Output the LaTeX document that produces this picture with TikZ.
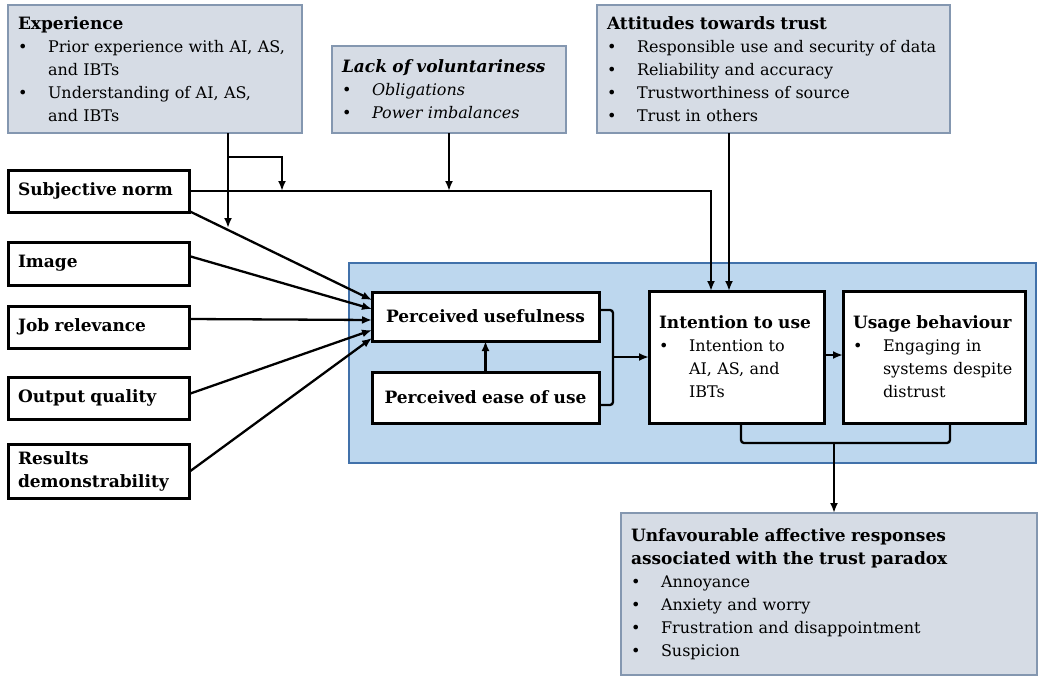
\documentclass[tikz,border=0pt]{standalone}
\usepackage{fontspec}
\setmainfont{DejaVu Serif}
\usetikzlibrary{arrows.meta}

\newcommand{\bul}{\makebox[30pt][l]{\textbullet}}
\newcommand{\ind}{\hspace*{30pt}}
\newcommand{\boxtitle}[1]{\mbox{\fontsize{17}{23}\selectfont\bfseries #1}}

\begin{document}
\begin{tikzpicture}[x=1pt,y=-1pt,
  font=\fontsize{16}{23}\selectfont,
  greybox/.style={draw=kBoxEdge,fill=kBoxFill,line width=2.5pt,anchor=north west,
    align=left,inner xsep=10pt,inner ysep=0pt,outer sep=0pt},
  blackbox/.style={draw=black,fill=white,line width=3pt,anchor=north west,
    align=left,inner xsep=10pt,inner ysep=0pt,outer sep=0pt},
  corebox/.style={draw=kCoreEdge,fill=kCoreFill,line width=2.5pt,anchor=north west,
    inner sep=0pt,outer sep=0pt},
  conn/.style={line width=2.3pt},
  arrow/.style={conn,-{Latex[length=10pt,width=8pt]}}]
  % colors
  \definecolor{kBoxFill}{RGB}{214,220,229}
  \definecolor{kBoxEdge}{RGB}{132,151,176}
  \definecolor{kCoreFill}{RGB}{189,215,238}
  \definecolor{kCoreEdge}{RGB}{65,113,170}
  \useasboundingbox (0,0) rectangle (1039,677);
  % top boxes
  \node[greybox,minimum width=294pt,minimum height=128pt,text width=274pt] (exp) at (8,5)
    {\boxtitle{Experience}\\
     \bul Prior experience with AI, AS,\\ \ind and IBTs\\
     \bul Understanding of AI, AS,\\ \ind and IBTs};
  \node[greybox,minimum width=234pt,minimum height=87pt,text width=214pt] (lov) at (332,46)
    {\boxtitle{\itshape Lack of voluntariness}\\
     \bul\textit{Obligations}\\
     \bul\textit{Power imbalances}};
  \node[greybox,minimum width=353pt,minimum height=128pt,text width=333pt] (att) at (597,5)
    {\boxtitle{Attitudes towards trust}\\
     \bul Responsible use and security of data\\
     \bul Reliability and accuracy\\
     \bul Trustworthiness of source\\
     \bul Trust in others};
  % left boxes
  \node[blackbox,minimum width=181pt,minimum height=42pt,text width=161pt] (sn) at (8,170) {\boxtitle{Subjective norm}};
  \node[blackbox,minimum width=181pt,minimum height=43pt,text width=161pt] (img) at (8,242) {\boxtitle{Image}};
  \node[blackbox,minimum width=181pt,minimum height=42pt,text width=161pt] (job) at (8,306) {\boxtitle{Job relevance}};
  \node[blackbox,minimum width=181pt,minimum height=42pt,text width=161pt] (out) at (8,377) {\boxtitle{Output quality}};
  \node[blackbox,minimum width=181pt,minimum height=54pt,text width=161pt] (res) at (8,444)
    {\boxtitle{Results}\\ \boxtitle{demonstrability}};
  % core model
  \node[corebox,minimum width=687pt,minimum height=200pt] (core) at (349,263) {};
  \node[blackbox,align=center,minimum width=227pt,minimum height=49pt,text width=207pt] (pu) at (372,292)
    {\boxtitle{Perceived usefulness}};
  \node[blackbox,align=center,minimum width=227pt,minimum height=51pt,text width=207pt] (peou) at (372,372)
    {\boxtitle{Perceived ease of use}};
  \node[blackbox,minimum width=175pt,minimum height=132pt,text width=155pt] (iu) at (649,291)
    {\boxtitle{Intention to use}\\
     \bul Intention to\\ \ind AI, AS, and\\ \ind IBTs};
  \node[blackbox,minimum width=182pt,minimum height=132pt,text width=162pt] (ub) at (843,291)
    {\boxtitle{Usage behaviour}\\
     \bul Engaging in\\ \ind systems despite\\ \ind distrust};
  % outcome
  \node[greybox,minimum width=416pt,minimum height=162pt,text width=396pt] (unf) at (621,513)
    {\boxtitle{Unfavourable affective responses}\\
     \boxtitle{associated with the trust paradox}\\
     \bul Annoyance\\
     \bul Anxiety and worry\\
     \bul Frustration and disappointment\\
     \bul Suspicion};
  % bend points
  \coordinate (expturn) at (228,157);
  \coordinate (expdrop) at (228,228);
  \coordinate (expnorm) at (282,191);
  \coordinate (iuin1) at (711,291);
  \coordinate (iuin2) at (729,291);
  \coordinate (brk) at (613,357);
  \coordinate (brk2) at (834,443);
  % moderators
  \draw[arrow] (exp.south -| expdrop) -- (expdrop);
  \draw[arrow] (expturn) -| (expnorm);
  \draw[arrow] (lov.south) -- (lov.south |- sn.east);
  \draw[arrow] (sn.east) -| (iuin1);
  \draw[arrow] (att.south -| iuin2) -- (iuin2);
  % determinants
  \foreach \src/\sy/\ty in {sn.south east/211/300, img.east/256/309, job.east/319/320, out.east/394/330, res.east/472/338}
    \draw[arrow] (\src |- 0,\sy) -- (pu.west |- 0,\ty);
  \draw[arrow] (peou.north) -- (pu.south);
  \draw[conn,rounded corners=3pt] (pu.east |- 0,310) -| (brk) |- (peou.east |- 0,405);
  \draw[arrow] (brk) -- (iu.west |- brk);
  \draw[arrow] (iu.east |- 0,355) -- (ub.west |- 0,355);
  \draw[conn,rounded corners=3pt] (iu.south -| 741,0) |- (brk2) -| (ub.south -| 950,0);
  \draw[arrow] (brk2) -- (brk2 |- unf.north);
\end{tikzpicture}
\end{document}
